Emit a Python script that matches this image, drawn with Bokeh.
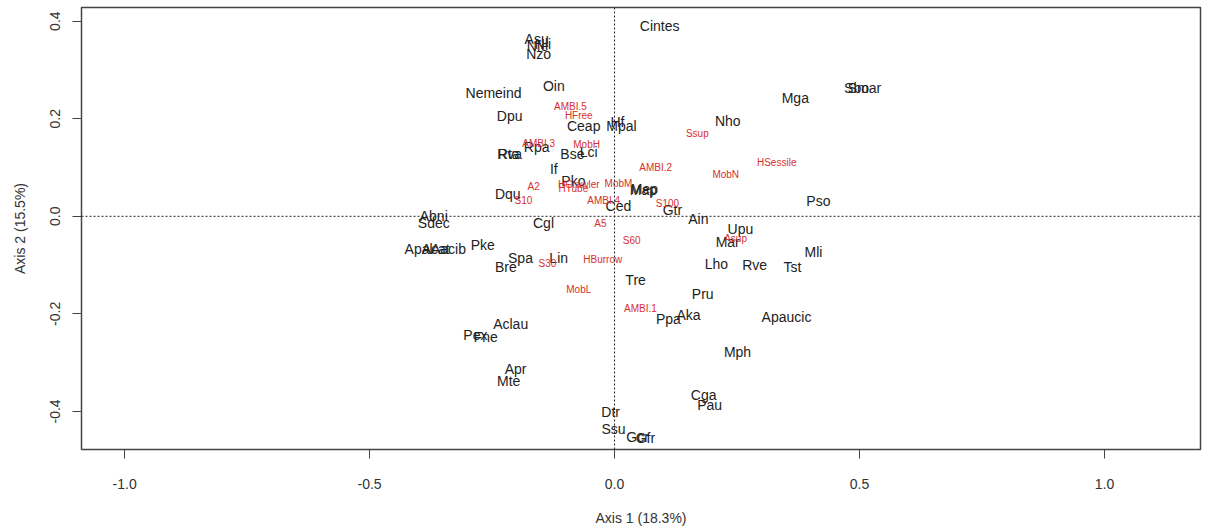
from bokeh.plotting import figure
from bokeh.models import Span, FixedTicker, PrintfTickFormatter, ColumnDataSource
from bokeh.core.properties import value
from bokeh.embed import file_html
from bokeh.resources import INLINE

# Species scores on the first two ordination axes
species = ["Cintes", "Asu", "Nfe", "Nli", "Nzo", "Oin", "Nemeind", "Dpu", "Ceap", "Hf",
           "Mpal", "Rpa", "Rta", "Rva", "Bse", "Lci", "If", "Pko", "Dqu", "Map", "Mep",
           "Ced", "Gtr", "Ain", "Cgl", "Abni", "Sdec", "Apal", "Acat", "Aacib", "Pke",
           "Bre", "Spa", "Lin", "Tre", "Aclau", "Pex", "Fne", "Apr", "Mte", "Dtr", "Ssu",
           "Gcr", "Gfr", "Mga", "Sbo", "Smar", "Nho", "Pso", "Upu", "Mar", "Mli", "Lho",
           "Rve", "Tst", "Pru", "Aka", "Ppa", "Apaucic", "Mph", "Cga", "Pau"]
species_ax1 = [0.092, -0.159, -0.157, -0.146, -0.155, -0.124, -0.247, -0.214, -0.063, 0.006,
               0.014, -0.159, -0.216, -0.214, -0.086, -0.053, -0.124, -0.084, -0.218, 0.059, 0.061,
               0.008, 0.118, 0.171, -0.145, -0.369, -0.369, -0.400, -0.365, -0.339, -0.269,
               -0.222, -0.192, -0.114, 0.043, -0.212, -0.284, -0.263, -0.202, -0.216, -0.008, -0.002,
               0.047, 0.063, 0.369, 0.494, 0.510, 0.231, 0.416, 0.257, 0.231, 0.406, 0.208,
               0.286, 0.363, 0.180, 0.151, 0.110, 0.351, 0.251, 0.182, 0.194]
species_ax2 = [0.391, 0.364, 0.350, 0.354, 0.333, 0.267, 0.253, 0.206, 0.185, 0.193,
               0.185, 0.142, 0.128, 0.128, 0.128, 0.132, 0.097, 0.072, 0.045, 0.053, 0.055,
               0.021, 0.012, -0.006, -0.014, 0.000, -0.014, -0.068, -0.068, -0.068, -0.058,
               -0.103, -0.086, -0.086, -0.130, -0.220, -0.243, -0.247, -0.313, -0.337, -0.401, -0.436,
               -0.453, -0.455, 0.243, 0.263, 0.263, 0.195, 0.031, -0.027, -0.053, -0.074, -0.097,
               -0.099, -0.103, -0.160, -0.202, -0.210, -0.206, -0.278, -0.366, -0.387]

# Trait modality scores
traits = ["AMBI.5", "HFree", "Ssup", "AMBI.3", "MobH", "AMBI.2", "HSessile", "MobN", "A2",
          "HCrawler", "HTube", "MobM", "S10", "AMBI.4", "S100", "A5", "S60", "S30",
          "HBurrow", "MobL", "AMBI.1", "Asup"]
traits_ax1 = [-0.090, -0.073, 0.169, -0.155, -0.057, 0.084, 0.331, 0.227, -0.165,
              -0.073, -0.084, 0.008, -0.186, -0.022, 0.108, -0.029, 0.035, -0.137,
              -0.024, -0.073, 0.053, 0.247]
traits_ax2 = [0.226, 0.206, 0.169, 0.150, 0.148, 0.101, 0.111, 0.086, 0.062,
              0.066, 0.058, 0.068, 0.033, 0.033, 0.027, -0.014, -0.049, -0.097,
              -0.088, -0.150, -0.189, -0.045]

x_ticks = [-1.0, -0.5, 0.0, 0.5, 1.0]
y_ticks = [-0.4, -0.2, 0.0, 0.2, 0.4]

FONT = "Liberation Sans"

p = figure(width=1210, height=529, output_backend="svg", toolbar_location=None,
           x_range=(-1.088, 1.196), y_range=(-0.478, 0.428),
           min_border_left=81, min_border_right=10, min_border_top=7, min_border_bottom=80)
p.background_fill_color = "white"
p.border_fill_color = "white"
p.grid.visible = False
p.outline_line_color = "#444444"
p.outline_line_width = 1.5

for ax in (p.xaxis[0], p.yaxis[0]):
    ax.axis_line_color = None
    ax.major_tick_in = 0
    ax.major_tick_out = 9
    ax.major_tick_line_color = "#444444"
    ax.minor_tick_line_color = None
    ax.major_label_text_font = FONT
    ax.major_label_text_font_size = "14px"
    ax.major_label_text_color = "#333333"
    ax.axis_label_text_font = FONT
    ax.axis_label_text_font_size = "14px"
    ax.axis_label_text_font_style = "normal"
    ax.axis_label_text_color = "#333333"
    ax.formatter = PrintfTickFormatter(format="%.1f")

p.xaxis[0].ticker = FixedTicker(ticks=x_ticks)
p.yaxis[0].ticker = FixedTicker(ticks=y_ticks)
p.xaxis[0].axis_label = "Axis 1 (18.3%)"
p.yaxis[0].axis_label = "Axis 2 (15.5%)"
p.xaxis[0].major_label_standoff = 20
p.xaxis[0].axis_label_standoff = 18
p.yaxis[0].major_label_orientation = "vertical"
p.yaxis[0].major_label_standoff = 12
p.yaxis[0].axis_label_standoff = 20

# Dotted reference lines through the origin
p.add_layout(Span(location=0, dimension="width", line_color="#222222", line_dash="2 2", line_width=1))
p.add_layout(Span(location=0, dimension="height", line_color="#222222", line_dash="2 2", line_width=1))

sp = ColumnDataSource(dict(x=species_ax1, y=species_ax2, t=species))
tr = ColumnDataSource(dict(x=traits_ax1, y=traits_ax2, t=traits))

p.text(x="x", y="y", text="t", source=sp, text_align="center", text_baseline="middle",
       text_font=value(FONT), text_font_size="14px", text_color="#222222")
p.text(x="x", y="y", text="t", source=tr, text_align="center", text_baseline="middle",
       text_font=value(FONT), text_font_size="10px", text_color="#d8302c")

open("out.html", "w").write(file_html(p, INLINE))
